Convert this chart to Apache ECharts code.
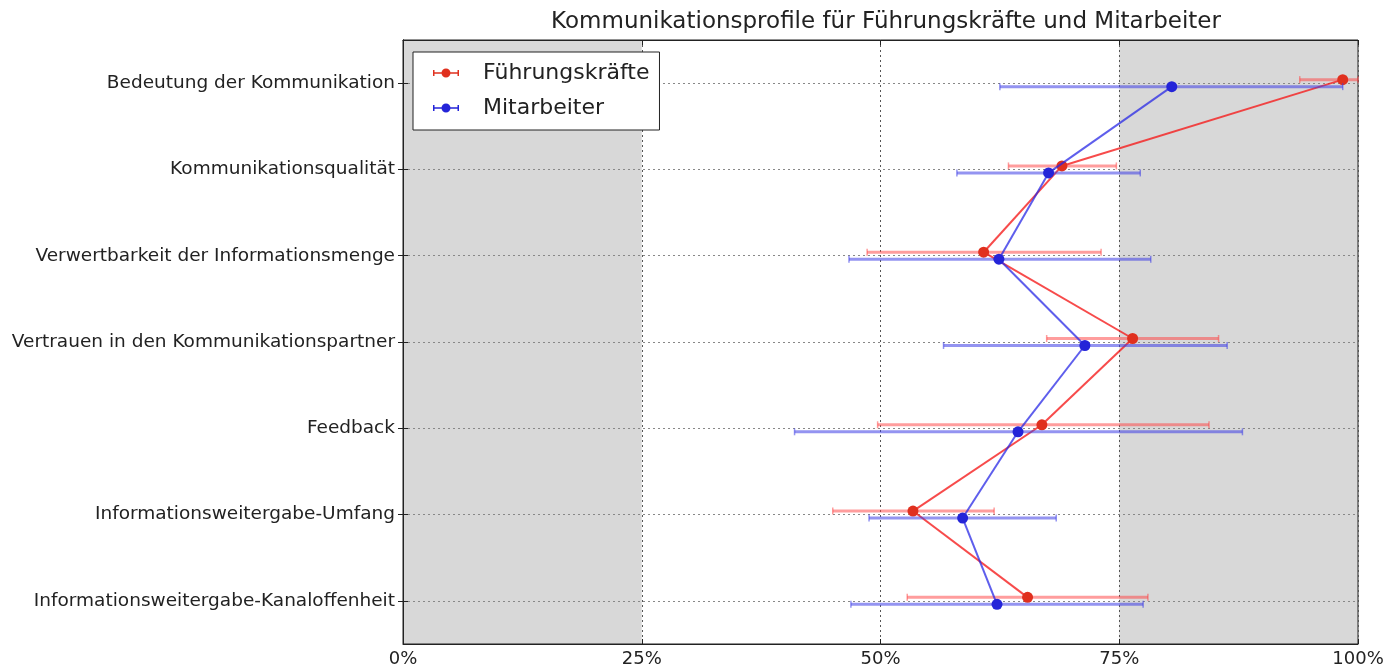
<!DOCTYPE html>
<html>
<head>
<meta charset="utf-8">
<script src="https://cdn.jsdelivr.net/npm/echarts@6/dist/echarts.min.js"></script>
<style>
  html, body { margin: 0; padding: 0; background: #fff; }
  #chart { width: 1397px; height: 668px; }
</style>
</head>
<body>
<div id="chart"></div>
<script>
// Kategorien (von oben nach unten)
const categories = [
  'Bedeutung der Kommunikation',
  'Kommunikationsqualität',
  'Verwertbarkeit der Informationsmenge',
  'Vertrauen in den Kommunikationspartner',
  'Feedback',
  'Informationsweitergabe-Umfang',
  'Informationsweitergabe-Kanaloffenheit'
]

// Führungskräfte: Mittelwert und Fehlerbalken (in %)
const fuehrungMean = [98.4, 69.0, 60.8, 76.4, 66.9, 53.4, 65.4]
const fuehrungLow = [93.9, 63.4, 48.6, 67.4, 49.7, 45.0, 52.8]
const fuehrungHigh = [100, 74.7, 73.1, 85.4, 84.4, 61.9, 78.0]

// Mitarbeiter
const mitarbeiterMean = [80.5, 67.6, 62.4, 71.4, 64.4, 58.6, 62.2]
const mitarbeiterLow = [62.5, 58.0, 46.7, 56.6, 41.0, 48.8, 46.9]
const mitarbeiterHigh = [98.4, 77.2, 78.3, 86.3, 87.9, 68.4, 77.5]

// graue Bereiche der x-Achse
const shadedBands = [[0, 25], [75, 100]]

const FONT = 'DejaVu Sans'

const legendIcon = 'path://M0,2L1.5,2L1.5,4.2L24.5,4.2L24.5,2L26,2L26,8L24.5,8L24.5,5.8L1.5,5.8L1.5,8L0,8Z' +
  'M13,0.5A4.5,4.5,0,1,1,12.99,0.5Z'

/**
 * Fehlerbalken-Serie mit Verbindungslinie
 */
function errorSeries (name, mean, low, high, dy, lineColor, barColor, dotColor) {
  return {
    type: 'custom',
    name: name,
    coordinateSystem: 'cartesian2d',
    itemStyle: { color: dotColor },
    data: mean.map((v, i) => [v, i, low[i], high[i]]),
    encode: { x: [0, 2, 3], y: 1 },
    z: 3,
    renderItem (params, api) {
      const i = params.dataIndex
      const p = api.coord([api.value(0), i])
      const lo = api.coord([api.value(2), i])
      const hi = api.coord([api.value(3), i])
      const y = p[1] + dy
      const children = []
      if (i < mean.length - 1) {
        const q = api.coord([mean[i + 1], i + 1])
        children.push({
          type: 'line',
          shape: { x1: p[0], y1: y, x2: q[0], y2: q[1] + dy },
          style: { stroke: lineColor, lineWidth: 2 }
        })
      }
      children.push({
        type: 'line',
        shape: { x1: lo[0], y1: y, x2: hi[0], y2: y },
        style: { stroke: barColor, lineWidth: 3 }
      })
      ;[lo[0], hi[0]].forEach(x => {
        children.push({
          type: 'line',
          shape: { x1: x, y1: y - 3.5, x2: x, y2: y + 3.5 },
          style: { stroke: barColor, lineWidth: 1.5 }
        })
      })
      children.push({
        type: 'circle',
        shape: { cx: p[0], cy: y, r: 5.5 },
        style: { fill: dotColor }
      })
      return { type: 'group', children: children }
    }
  }
}

const chart = echarts.init(document.getElementById('chart'))

chart.setOption({
  animation: false,
  title: {
    text: 'Kommunikationsprofile für Führungskräfte und Mitarbeiter',
    left: 881,
    textAlign: 'center',
    top: 6,
    textStyle: { fontFamily: FONT, fontSize: 23, fontWeight: 'normal', color: '#222' }
  },
  legend: {
    orient: 'vertical',
    left: 413,
    top: 52,
    padding: [10, 10, 11, 20],
    itemGap: 13,
    itemWidth: 26,
    itemHeight: 10,
    backgroundColor: '#fff',
    borderColor: '#222',
    borderWidth: 1,
    textStyle: { fontFamily: FONT, fontSize: 22, color: '#222', padding: [0, 0, 0, 19] },
    data: [
      { name: 'Führungskräfte', icon: legendIcon },
      { name: 'Mitarbeiter', icon: legendIcon }
    ]
  },
  grid: {
    left: 403,
    right: 39,
    top: 40,
    bottom: 24,
    show: true,
    borderColor: '#222',
    borderWidth: 1
  },
  xAxis: [{
    type: 'value',
    min: 0,
    max: 100,
    interval: 25,
    axisLine: { show: true, lineStyle: { color: '#222' } },
    axisTick: { show: true, inside: true, length: 5, lineStyle: { color: '#222' } },
    axisLabel: {
      formatter: '{value}%',
      fontFamily: FONT,
      fontSize: 18,
      color: '#222',
      margin: 6
    },
    splitLine: { show: true, lineStyle: { type: [2, 3], color: '#555' } }
  }, {
    type: 'value',
    position: 'top',
    min: 0,
    max: 100,
    interval: 25,
    axisLine: { show: true, lineStyle: { color: '#222' } },
    axisTick: { show: true, inside: true, length: 5, lineStyle: { color: '#222' } },
    axisLabel: { show: false },
    splitLine: { show: false }
  }],
  yAxis: [{
    type: 'category',
    data: categories,
    inverse: true,
    axisLine: { show: true, lineStyle: { color: '#222' } },
    axisTick: { show: true, inside: true, length: 5, alignWithLabel: true, lineStyle: { color: '#222' } },
    axisLabel: { fontFamily: FONT, fontSize: 18.5, color: '#222', margin: 8 },
    splitLine: { show: true, alignWithLabel: true, lineStyle: { type: [2, 3], color: '#888' } }
  }, {
    type: 'category',
    data: categories,
    inverse: true,
    position: 'right',
    axisLine: { show: true, lineStyle: { color: '#222' } },
    axisTick: { show: true, inside: true, length: 5, alignWithLabel: true, lineStyle: { color: '#222' } },
    axisLabel: { show: false },
    splitLine: { show: false }
  }],
  series: [
    {
      type: 'custom',
      name: 'bands',
      silent: true,
      z: -1,
      data: shadedBands.map(b => [b[0], b[1], 0]),
      encode: { x: [0, 1], y: 2 },
      renderItem (params, api) {
        const a = api.coord([api.value(0), 0])
        const b = api.coord([api.value(1), 0])
        return {
          type: 'rect',
          shape: { x: a[0], y: params.coordSys.y, width: b[0] - a[0], height: params.coordSys.height },
          style: { fill: '#d8d8d8' }
        }
      }
    },
    errorSeries('Führungskräfte', fuehrungMean, fuehrungLow, fuehrungHigh, -3.5,
      'rgba(245,30,30,0.8)', 'rgba(255,60,60,0.5)', '#e0301e'),
    errorSeries('Mitarbeiter', mitarbeiterMean, mitarbeiterLow, mitarbeiterHigh, 3.5,
      'rgba(40,40,230,0.75)', 'rgba(60,60,230,0.55)', '#2424d8')
  ]
})
</script>
</body>
</html>
